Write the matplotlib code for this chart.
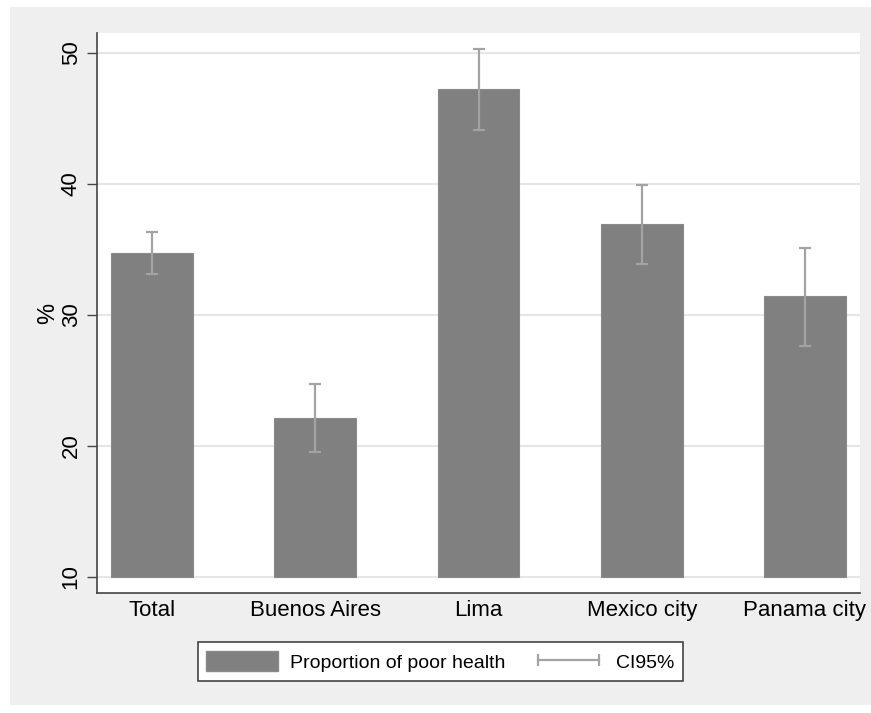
import matplotlib.pyplot as plt
from matplotlib.lines import Line2D
from matplotlib.patches import Patch, Rectangle

plt.rcParams["font.family"] = ["Liberation Sans", "DejaVu Sans"]

# proportion of poor health by city, with 95% confidence intervals
cities = ["Total", "Buenos Aires", "Lima", "Mexico city", "Panama city"]
proportion = [34.7, 22.1, 47.2, 36.9, 31.4]
ci_low = [33.1, 19.5, 44.1, 33.9, 27.6]
ci_high = [36.3, 24.7, 50.3, 39.9, 35.1]
yticks = [10, 20, 30, 40, 50]

bar_color = "#808080"
ci_color = "#a3a3a3"

fig = plt.figure(figsize=(8.71, 7.13), dpi=100, facecolor="white")
fig.patches.append(Rectangle((10 / 871, 1 - 705 / 713), 861 / 871, 698 / 713,
                             transform=fig.transFigure, facecolor="#efefef",
                             edgecolor="none", zorder=-10))
ax = fig.add_axes([97 / 871, 1 - 593 / 713, 763 / 871, 560 / 713])

x = range(len(cities))
base = 10
heights = [p - base for p in proportion]
ax.bar(x, heights, bottom=base, width=0.5, color=bar_color,
       edgecolor="#8a8a8a", linewidth=0.8, zorder=2)
yerr = [[p - lo for p, lo in zip(proportion, ci_low)],
        [hi - p for p, hi in zip(proportion, ci_high)]]
ax.errorbar(x, proportion, yerr=yerr, fmt="none", ecolor=ci_color,
            elinewidth=1.6, capsize=4, capthick=1.6, zorder=3)

ax.set_xlim(-0.337, 4.337)
ax.set_ylim(8.78, 51.5)
ax.set_yticks(yticks)
ax.set_xticks(list(x))
ax.set_xticklabels(cities, fontsize=16)
ax.tick_params(axis="x", length=0, pad=5)
ax.tick_params(axis="y", length=7, width=1, color="#444444", pad=4,
               labelsize=16)
for lab in ax.get_yticklabels():
    lab.set_rotation(90)
    lab.set_va("center")
ax.set_ylabel("%", fontsize=17, labelpad=1)
ax.grid(axis="y", color="#e6e6e6", linewidth=1.5, zorder=0)
ax.set_axisbelow(True)

for side in ["top", "right"]:
    ax.spines[side].set_visible(False)
for side in ["left", "bottom"]:
    ax.spines[side].set_color("#444444")
    ax.spines[side].set_linewidth(1.2)

# legend
handles = [Patch(facecolor=bar_color, edgecolor="#8a8a8a"),
           Line2D([0, 1], [0, 0], color=ci_color, linewidth=1.6, marker="|",
                  markersize=9, markeredgewidth=1.6)]
leg = fig.legend(handles, ["Proportion of poor health", "CI95%"],
                 loc="center", bbox_to_anchor=(440.5 / 871, 1 - 661.5 / 713),
                 ncol=2, fontsize=14, frameon=True, fancybox=False,
                 edgecolor="#444444", facecolor="white", framealpha=1,
                 handlelength=3.7, handleheight=1.2, numpoints=2,
                 columnspacing=1.4, handletextpad=0.6, borderpad=0.45)
leg.get_frame().set_linewidth(1.2)

plt.savefig("out.png", dpi=100, facecolor=fig.get_facecolor())
